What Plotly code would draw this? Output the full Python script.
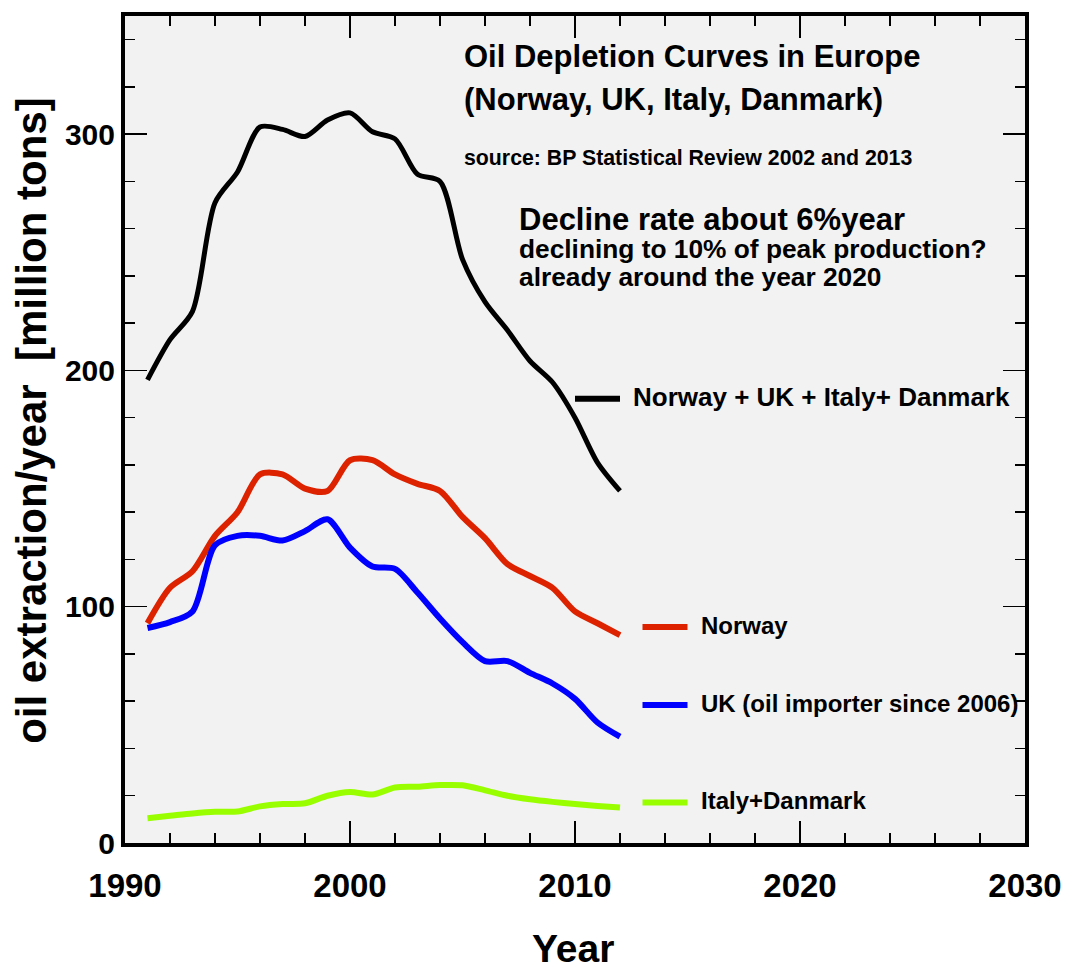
import plotly.graph_objects as go

years = list(range(1991, 2013))
total = [196, 213, 225, 271, 284, 303, 302, 299, 306, 309, 301, 298, 283, 280,
         247, 229, 217, 204, 195, 180, 161, 149]
norway = [93, 108, 115, 130, 140, 156, 156, 150, 149, 162, 162, 156, 152, 149,
          138, 129, 118, 113, 108, 98, 93, 88]
uk = [91, 93.5, 98, 126, 130, 130, 128, 132, 137, 125, 117, 116, 106, 95,
      85, 77, 77, 72, 67.5, 61, 51, 45]
italy_dk = [10.5, 11.5, 12.5, 13.2, 13.3, 15.5, 16.5, 16.8, 20, 21.6, 20.5, 23.5,
            23.8, 24.5, 24.4, 22.3, 20, 18.5, 17.4, 16.5, 15.7, 15]

series_names = ["Norway + UK + Italy+ Danmark", "Norway",
                "UK (oil importer since 2006)", "Italy+Danmark"]
series_values = [total, norway, uk, italy_dk]
series_colors = ["#000000", "#dd2200", "#0000ff", "#99ff00"]
series_widths = [5, 6, 6, 6]
# legend key positions (data coords): x start, x end, y, label font size
key_pos = [(2010.0, 2012.0, 188, 26), (2013.0, 2015.0, 91.4, 24),
           (2013.0, 2015.0, 58.4, 24), (2013.0, 2015.0, 17.1, 24)]

FONT = "Liberation Sans, Arial, Helvetica, sans-serif"

fig = go.Figure()
for vals, col, w in zip(series_values, series_colors, series_widths):
    fig.add_trace(go.Scatter(x=years, y=vals, mode="lines",
                             line=dict(color=col, width=w, shape="spline", smoothing=0.8),
                             showlegend=False, hoverinfo="skip"))

shapes = []
annotations = []
for name, col, (x0, x1, y, fs) in zip(series_names, series_colors, key_pos):
    shapes.append(dict(type="line", xref="x", yref="y", x0=x0, x1=x1, y0=y, y1=y,
                       line=dict(color=col, width=6)))
    annotations.append(dict(x=x1 + 0.5, y=y + 0.8, xref="x", yref="y", text="<b>%s</b>" % name,
                            showarrow=False, xanchor="left", yanchor="middle",
                            font=dict(family=FONT, size=fs, color="black")))

texts = [
    ("Oil Depletion Curves in Europe", 2004.98, 333.0, 31),
    ("(Norway, UK, Italy, Danmark)", 2004.98, 314.8, 31),
    ("source: BP Statistical Review 2002 and 2013", 2004.98, 290.0, 21.3),
    ("Decline rate about 6%year", 2007.4, 264.0, 31),
    ("declining to 10% of peak production?", 2007.4, 251.4, 26.3),
    ("already around the year 2020", 2007.4, 239.6, 26.3),
]
for t, x, y, fs in texts:
    annotations.append(dict(x=x, y=y, xref="x", yref="y", text="<b>%s</b>" % t,
                            showarrow=False, xanchor="left", yanchor="middle",
                            font=dict(family=FONT, size=fs, color="black")))

annotations.append(dict(x=-0.104, y=0.511, xref="paper", yref="paper",
                        text="<b>oil extraction/year\u00a0 [million tons]</b>", textangle=-90,
                        showarrow=False, xanchor="center", yanchor="middle",
                        font=dict(family=FONT, size=42, color="black")))
annotations.append(dict(x=0.498, y=-0.128, xref="paper", yref="paper",
                        text="<b>Year</b>", showarrow=False, xanchor="center", yanchor="middle",
                        font=dict(family=FONT, size=39, color="black")))

fig.update_layout(
    width=1074, height=972,
    margin=dict(l=125, r=41, t=12, b=129),
    paper_bgcolor="white", plot_bgcolor="#f2f2f2",
    shapes=shapes, annotations=annotations,
    font=dict(family=FONT, color="black"),
)
fig.update_xaxes(range=[1990, 2030], tickvals=[1990, 2000, 2010, 2020, 2030],
                 ticktext=["<b>1990</b>", "<b>2000</b>", "<b>2010</b>", "<b>2020</b>", "<b>2030</b>"],
                 ticks="inside", ticklen=22, tickwidth=1.5, tickcolor="black",
                 minor=dict(dtick=2, tick0=1990, ticks="inside", ticklen=10, tickwidth=1.5, tickcolor="black"),
                 showline=True, linewidth=4, linecolor="black", mirror="ticks",
                 showgrid=False, zeroline=False,
                 tickfont=dict(family=FONT, size=33, color="black"), ticklabelstandoff=10)
fig.update_yaxes(range=[0, 350], tickvals=[0, 100, 200, 300],
                 ticktext=["<b>0</b>", "<b>100</b>", "<b>200</b>", "<b>300</b>"],
                 ticks="inside", ticklen=22, tickwidth=1.5, tickcolor="black",
                 minor=dict(dtick=20, tick0=0, ticks="inside", ticklen=10, tickwidth=1.5, tickcolor="black"),
                 showline=True, linewidth=4, linecolor="black", mirror="ticks",
                 showgrid=False, zeroline=False,
                 tickfont=dict(family=FONT, size=30, color="black"), ticklabelstandoff=0)

# remove the page's default 8px body margin so the figure fills the window exactly
fig.write_html("out.html", config={"displayModeBar": False, "staticPlot": True},
               post_script="document.body.style.margin='0';document.body.style.overflow='hidden';")
